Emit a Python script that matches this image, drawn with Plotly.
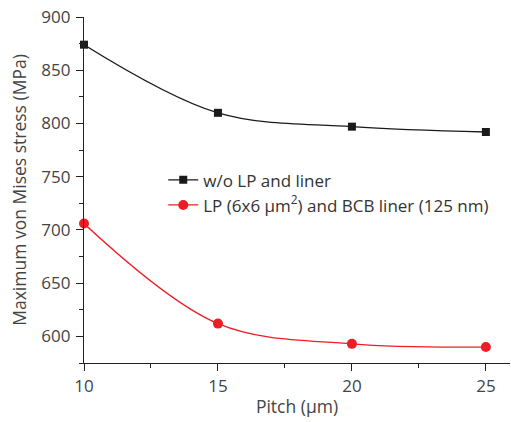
import plotly.graph_objects as go

pitch = [10, 15, 20, 25]
wo_lp = [874, 810, 797, 792]
lp_bcb = [706, 612, 593, 590]
name1 = "w/o LP and liner"
name2 = "LP (6x6 \u03bcm<sup>2</sup>) and BCB liner (125 nm)"

fig = go.Figure()
fig.add_trace(go.Scatter(x=pitch, y=wo_lp, name=name1, mode="lines+markers", legendgroup="a",
                         line=dict(color="#1a1a1a", width=1.3, shape="spline", smoothing=1),
                         marker=dict(symbol="square", size=8, color="#1a1a1a"), cliponaxis=False))
fig.add_trace(go.Scatter(x=pitch, y=lp_bcb, name=name2, mode="lines+markers", legendgroup="b",
                         line=dict(color="#ee1c25", width=1.3, shape="spline", smoothing=1),
                         marker=dict(symbol="circle", size=10, color="#ee1c25"), cliponaxis=False))

fam = "Open Sans, Roboto, sans-serif"
axfont = dict(family=fam, size=17, color="#444")
titlefont = dict(family=fam, size=17.5, color="#444")
fig.update_layout(
    width=511, height=422,
    margin=dict(l=84, r=1, t=17, b=59),
    plot_bgcolor="white", paper_bgcolor="white",
    font=dict(family=fam, color="#444"),
    showlegend=True,
    legend=dict(x=0.186, y=0.58, xanchor="left", yanchor="top", bgcolor="rgba(0,0,0,0)",
                font=dict(family=fam, size=17, color="#333"), tracegroupgap=0),
    xaxis=dict(range=[10, 25.9], tickvals=[10, 15, 20, 25], showline=True, linecolor="#222",
               linewidth=1.3, ticks="outside", ticklen=7, tickcolor="#222", showgrid=False,
               zeroline=False, tickfont=axfont,
               minor=dict(dtick=2.5, tick0=10, ticks="outside", ticklen=4, tickcolor="#222"),
               title=dict(text="Pitch (\u03bcm)", font=titlefont, standoff=5)),
    yaxis=dict(range=[575, 900], tickvals=[600, 650, 700, 750, 800, 850, 900], showline=True,
               linecolor="#222", linewidth=1.3, ticks="outside", ticklen=7, tickcolor="#222",
               showgrid=False, zeroline=False, tickfont=axfont, ticklabelstandoff=2,
               minor=dict(dtick=25, tick0=575, ticks="outside", ticklen=4, tickcolor="#222"),
               title=dict(text="Maximum von Mises stress (MPa)", font=titlefont, standoff=10)),
)
fig.write_html("out.html")
